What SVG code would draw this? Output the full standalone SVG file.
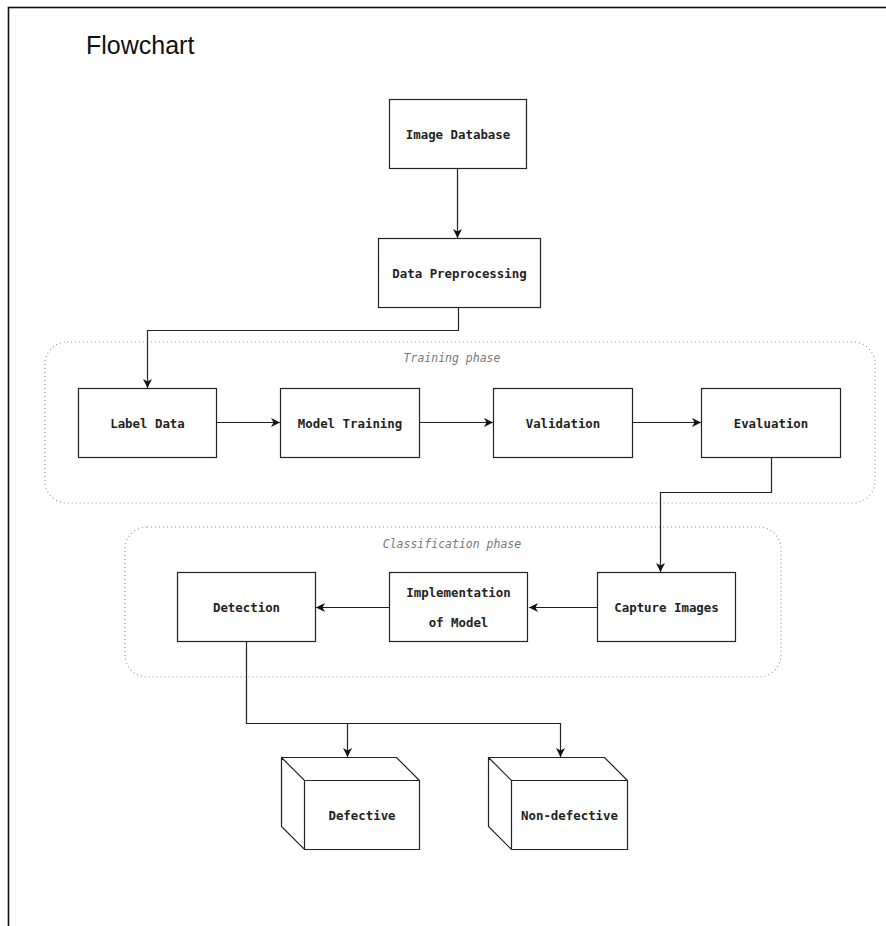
<svg xmlns="http://www.w3.org/2000/svg" width="886" height="926" viewBox="0 0 886 926">
<defs>
<style>
.frame{fill:none;stroke:#111;stroke-width:1.6}
.box{fill:#fff;stroke:#222;stroke-width:1.2}
.grp{fill:none;stroke:#999;stroke-width:1.2;stroke-dasharray:1 3}
.lbl{font-family:"DejaVu Sans Mono","Liberation Mono",monospace;font-weight:bold;font-size:12.4px;fill:#222;text-anchor:middle;dominant-baseline:central}
.ph{font-family:"DejaVu Sans Mono","Liberation Mono",monospace;font-style:italic;font-size:11.5px;fill:#777;text-anchor:middle}
.title{font-family:"Liberation Sans",Arial,sans-serif;font-size:25px;fill:#111}
.con{fill:none;stroke:#222;stroke-width:1.2;marker-end:url(#arr)}
</style>
<marker id="arr" markerUnits="userSpaceOnUse" markerWidth="12" markerHeight="12" refX="9" refY="4.5" orient="auto">
<path d="M0,0 L9,4.5 L0,9 L2.5,4.5 Z" fill="#111"/>
</marker>
</defs>
<rect class="frame" x="8.5" y="7.5" width="900" height="940"/>
<text class="title" x="86" y="54">Flowchart</text>

<g id="training-phase">
<rect class="grp" x="45" y="342" width="830" height="161" rx="22"/>
<text class="ph" x="452" y="362">Training phase</text>
</g>
<g id="classification-phase">
<rect class="grp" x="125" y="527" width="656" height="150" rx="22"/>
<text class="ph" x="452" y="548">Classification phase</text>
</g>

<g id="connectors">
<path class="con" d="M457.5,169 V238"/>
<path class="con" d="M458.5,307 V330.5 H147.5 V388"/>
<path class="con" d="M216,422.5 H280"/>
<path class="con" d="M419,422.5 H493"/>
<path class="con" d="M632,422.5 H701"/>
<path class="con" d="M771.5,457 V492.5 H660.5 V572"/>
<path class="con" d="M597,607.5 H529"/>
<path class="con" d="M389,607.5 H316"/>
<path class="con" d="M246.5,642 V723.5 H347.5 V757"/>
<path class="con" d="M347.5,723.5 H560.5 V757"/>
</g>

<g id="image-database">
<rect class="box" x="389.5" y="99.5" width="137" height="69"/>
<text class="lbl" x="458" y="134">Image Database</text>
</g>
<g id="data-preprocessing">
<rect class="box" x="378.5" y="238.5" width="162" height="69"/>
<text class="lbl" x="459.5" y="273">Data Preprocessing</text>
</g>
<g id="label-data">
<rect class="box" x="78.5" y="388.5" width="138" height="69"/>
<text class="lbl" x="147.5" y="423">Label Data</text>
</g>
<g id="model-training">
<rect class="box" x="280.5" y="388.5" width="139" height="69"/>
<text class="lbl" x="350" y="423">Model Training</text>
</g>
<g id="validation">
<rect class="box" x="493.5" y="388.5" width="139" height="69"/>
<text class="lbl" x="563" y="423">Validation</text>
</g>
<g id="evaluation">
<rect class="box" x="701.5" y="388.5" width="139" height="69"/>
<text class="lbl" x="771" y="423">Evaluation</text>
</g>
<g id="capture-images">
<rect class="box" x="597.5" y="572.5" width="138" height="69"/>
<text class="lbl" x="666.5" y="607">Capture Images</text>
</g>
<g id="implementation-of-model">
<rect class="box" x="389.5" y="572.5" width="138" height="69"/>
<text class="lbl" x="458.5" y="592">Implementation</text>
<text class="lbl" x="458.5" y="622">of Model</text>
</g>
<g id="detection">
<rect class="box" x="177.5" y="572.5" width="138" height="69"/>
<text class="lbl" x="246.5" y="607">Detection</text>
</g>
<g id="defective">
<path class="box" d="M281.5,757.5 H396.5 L419.5,780.5 V849.5 H304.5 L281.5,826.5 Z M281.5,757.5 L304.5,780.5 H419.5 M304.5,780.5 V849.5"/>
<text class="lbl" x="362" y="815">Defective</text>
</g>
<g id="non-defective">
<path class="box" d="M488.5,757.5 H604.5 L627.5,780.5 V849.5 H511.5 L488.5,826.5 Z M488.5,757.5 L511.5,780.5 H627.5 M511.5,780.5 V849.5"/>
<text class="lbl" x="569.5" y="815">Non-defective</text>
</g>
</svg>
